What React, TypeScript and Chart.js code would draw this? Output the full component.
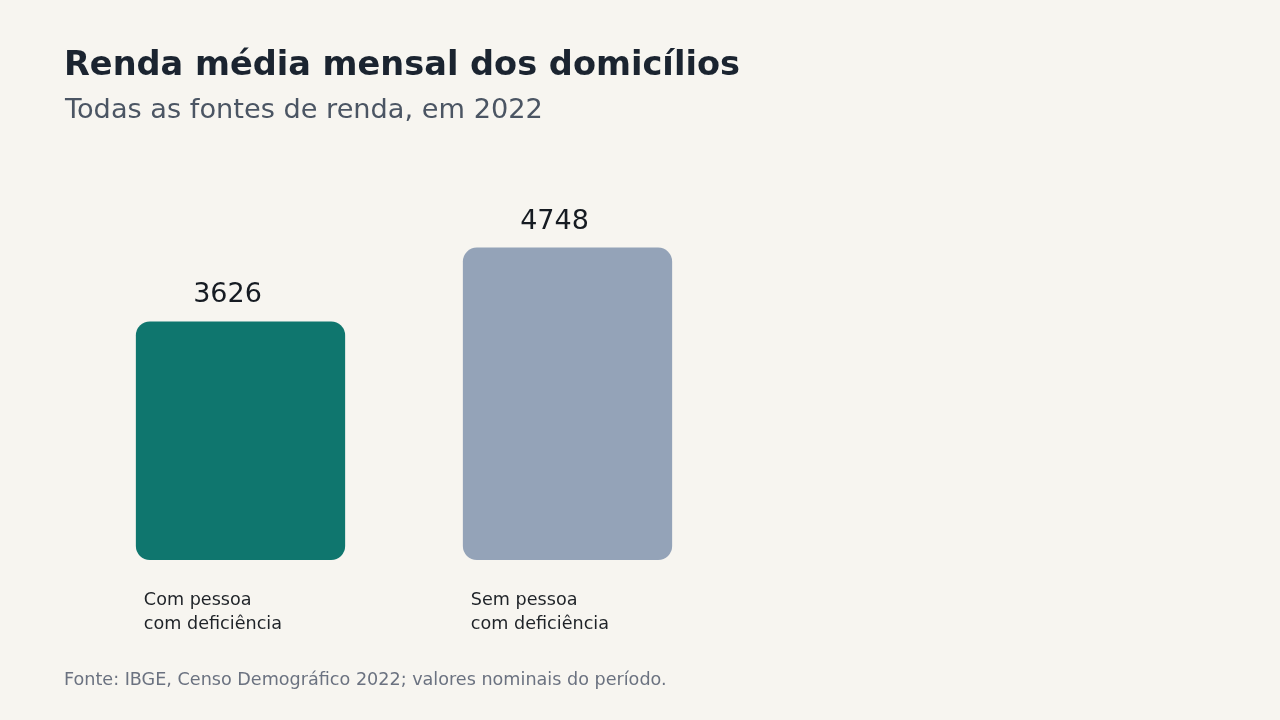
import React, { useEffect, useRef } from 'react';
import { Chart, registerables, Plugin } from 'chart.js';

Chart.register(...registerables);

const categories = ['Com pessoa\ncom deficiência', 'Sem pessoa\ncom deficiência'];
const rendaMedia = [3626, 4748];
const barColors = ['#0f766e', '#94a3b8'];

const TITLE = 'Renda média mensal dos domicílios';
const SUBTITLE = 'Todas as fontes de renda, em 2022';
const SOURCE = 'Fonte: IBGE, Censo Demográfico 2022; valores nominais do período.';
const FONT = '"DejaVu Sans", sans-serif';

const textPlugin: Plugin<'bar'> = {
  id: 'textLayer',
  beforeDraw(chart) {
    const { ctx, width, height } = chart;
    ctx.save();
    ctx.fillStyle = '#f7f5f0';
    ctx.fillRect(0, 0, width, height);
    ctx.restore();
  },
  afterDatasetsDraw(chart) {
    const { ctx } = chart;
    const meta = chart.getDatasetMeta(0);
    ctx.save();
    ctx.textBaseline = 'alphabetic';
    ctx.textAlign = 'left';

    // heading
    ctx.fillStyle = '#1b2430';
    ctx.font = `bold 33.6px ${FONT}`;
    ctx.fillText(TITLE, 64, 75);
    ctx.fillStyle = '#4b5563';
    ctx.font = `27.2px ${FONT}`;
    ctx.fillText(SUBTITLE, 65, 118);

    // values above, category names below each bar
    meta.data.forEach((bar: any, i: number) => {
      const { x, y, width } = bar.getProps(['x', 'y', 'width'], true);
      ctx.fillStyle = '#161b22';
      ctx.font = `27px ${FONT}`;
      ctx.textAlign = 'center';
      ctx.fillText(String(rendaMedia[i]), x - 13, y - 19);

      ctx.textAlign = 'left';
      ctx.font = `17.6px ${FONT}`;
      ctx.fillStyle = '#1f2328';
      categories[i].split('\n').forEach((line, j) => {
        ctx.fillText(line, x - width / 2 + 8, 605 + j * 24);
      });
    });

    // source note
    ctx.fillStyle = '#6b7280';
    ctx.font = `17.6px ${FONT}`;
    ctx.fillText(SOURCE, 64, 685);
    ctx.restore();
  },
};

const App: React.FC = () => {
  const canvasRef = useRef<HTMLCanvasElement>(null);

  useEffect(() => {
    if (!canvasRef.current) return;
    const chart = new Chart(canvasRef.current, {
      type: 'bar',
      data: {
        labels: categories,
        datasets: [
          {
            data: rendaMedia,
            backgroundColor: barColors,
            borderRadius: 14,
            borderSkipped: false,
            categoryPercentage: 0.8,
            barPercentage: 0.8,
          },
        ],
      },
      options: {
        responsive: false,
        animation: false,
        layout: { padding: { left: 77, right: 549, top: 231, bottom: 160 } },
        plugins: {
          legend: { display: false },
          tooltip: { enabled: false },
          title: { display: false },
        },
        scales: {
          x: { display: false },
          y: { display: false, min: 0, max: 5000 },
        },
      },
      plugins: [textPlugin],
    });
    return () => chart.destroy();
  }, []);

  return (
    <div style={{ position: 'fixed', inset: 0, background: '#f7f5f0' }}>
      <canvas ref={canvasRef} width={1280} height={720} style={{ display: 'block' }} />
    </div>
  );
};

export default App;
